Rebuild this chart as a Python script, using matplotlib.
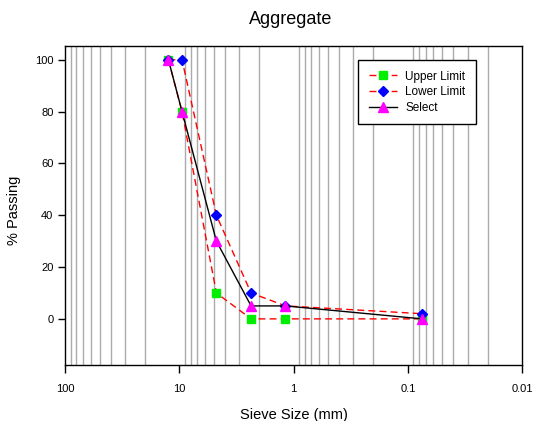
import matplotlib
matplotlib.use("Agg")
import matplotlib.pyplot as plt
from matplotlib.ticker import FixedLocator, NullFormatter, FixedFormatter

plt.rcParams['font.family'] = ['Liberation Sans', 'DejaVu Sans']

sieve = [12.5, 9.5, 4.75, 2.36, 1.18, 0.075]
upper = [100, 80, 10, 0, 0, 0]
lower = [100, 100, 40, 10, 5, 2]
select = [100, 80, 30, 5, 5, 0]

xticks = [100, 10, 1, 0.1, 0.01]
xticklabels = ['100', '10', '1', '0.1', '0.01']
yticks = [0, 20, 40, 60, 80, 100]

W, H = 533, 421
fig = plt.figure(figsize=(W/100, H/100), dpi=100)
L, R, T, B = 65.3, 522, 46, 365
ax = fig.add_axes([L/W, 1-B/H, (R-L)/W, (B-T)/H])

ax.set_xscale('log')
ax.set_xlim(100, 0.01)
ax.set_ylim(-17.8, 105.3)

ax.plot(sieve, upper, color='#ff0000', ls=(0, (5, 3)), lw=1, marker='s',
        mfc='#00ee00', mec='#00ee00', ms=6, label='Upper Limit', zorder=3)
ax.plot(sieve, lower, color='#ff0000', ls=(0, (5, 3)), lw=1, marker='D',
        mfc='#0000ff', mec='#0000ff', ms=5.5, label='Lower Limit', zorder=4)
ax.plot(sieve, select, color='black', lw=1, marker='^',
        mfc='#ff00ff', mec='#ff00ff', ms=6.5, label='Select', zorder=5)

# grid at minor ticks only
minors = []
for d in [10, 1, 0.1, 0.01]:
    for k in range(2, 10):
        minors.append(d * k)
ax.xaxis.set_major_locator(FixedLocator(xticks))
ax.xaxis.set_major_formatter(FixedFormatter(xticklabels))
ax.xaxis.set_minor_locator(FixedLocator(minors))
ax.xaxis.set_minor_formatter(NullFormatter())
for m in minors:
    ax.axvline(m, color='#ababab', lw=1, zorder=1)
ax.tick_params(axis='x', which='minor', length=0)
ax.tick_params(axis='x', which='major', direction='out', length=6, width=1, labelsize=8, pad=8)
ax.set_yticks(yticks)
ax.tick_params(axis='y', direction='out', length=5, width=1, labelsize=8)
for s in ax.spines.values():
    s.set_linewidth(1)

fig.text((L+R)/2/W, 1-418.5/H, 'Sieve Size (mm)', ha='center', va='baseline', fontsize=10.5)
fig.text(14/W, 1-210/H, '% Passing', ha='center', va='center', rotation=90, fontsize=10.5)
fig.text(291/W, 1-23.5/H, 'Aggregate', ha='center', va='baseline', fontsize=13)

leg = ax.legend(loc='upper left', bbox_to_anchor=((358-L)/(R-L), (B-60)/(B-T)),
                borderaxespad=0, fontsize=8.5, frameon=True, fancybox=False, shadow=False,
                edgecolor='black', framealpha=1, borderpad=0.9, handlelength=2.4,
                handletextpad=0.7, labelspacing=0.3)
leg.get_frame().set_linewidth(1)

fig.savefig('out.png', dpi=100)
